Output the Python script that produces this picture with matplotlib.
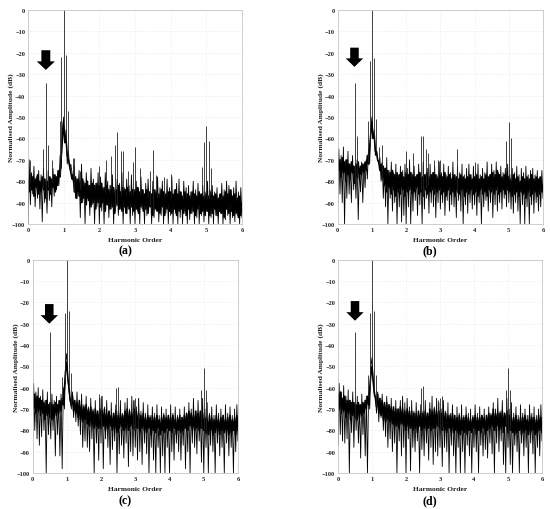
#!/usr/bin/env python3

import matplotlib
matplotlib.use("Agg")
import matplotlib.pyplot as plt
import numpy as np

plt.rcParams['font.family'] = ['Liberation Serif', 'DejaVu Sans']

# outer noise traces, one value per 1/30 of a harmonic order
a_trace = [-100,-70,-91,-76,-86,-73,-92,-78,-88,-75,-93,-77,-99,-74,-90,-79,-95,-75,-89,-78,-92,-74,-87,-77,-84,-75,-82,-68,-74,-56,
           -50,-62,-56,-72,-66,-74,-72,-76,-80,-73,-88,-79,-84,-75,-97,-72,-90,-80,-100,-76,-88,-82,-96,-74,-91,-79,-100,-81,-92,-76,
           -100,-78,-94,-83,-100,-76,-91,-80,-97,-82,-93,-77,-100,-84,-92,-79,-96,-81,-93,-76,-100,-83,-95,-79,-92,-82,-100,-77,-96,-84,
           -100,-80,-94,-83,-100,-78,-93,-84,-100,-81,-96,-79,-92,-85,-100,-80,-97,-84,-94,-78,-99,-83,-96,-80,-100,-85,-95,-79,-100,-83,
           -96,-78,-100,-84,-95,-81,-100,-79,-97,-85,-100,-80,-94,-83,-100,-82,-98,-85,-95,-80,-100,-84,-97,-81,-100,-86,-96,-82,-99,-85,
           -94,-80,-100,-84,-97,-82,-100,-85,-96,-83,-100,-86,-95,-81,-100,-84,-98,-80,-96,-82,-100,-84,-97,-83,-99,-80,-96,-85,-100,-83,-97]
b_trace = [-90,-65,-86,-68,-90,-64,-100,-70,-88,-66,-86,-72,-90,-68,-84,-73,-88,-70,-98,-74,-85,-71,-90,-72,-83,-70,-79,-65,-72,-56,
           -50,-60,-56,-68,-66,-70,-72,-69,-80,-71,-88,-74,-92,-69,-100,-75,-88,-71,-94,-76,-90,-72,-100,-77,-92,-73,-99,-75,-96,-72,
           -100,-74,-92,-70,-100,-76,-94,-73,-89,-77,-96,-72,-91,-76,-100,-71,-93,-77,-88,-74,-95,-72,-90,-76,-92,-73,-97,-77,-90,-71,
           -93,-76,-90,-72,-96,-77,-89,-73,-94,-76,-91,-71,-92,-77,-97,-73,-89,-76,-94,-72,-100,-77,-91,-74,-95,-72,-90,-77,-93,-73,
           -91,-76,-96,-72,-90,-77,-100,-74,-92,-76,-89,-71,-94,-77,-90,-72,-97,-75,-91,-71,-94,-76,-90,-73,-93,-76,-88,-74,-92,-72,
           -90,-77,-93,-74,-95,-76,-90,-73,-94,-77,-100,-74,-91,-76,-100,-73,-92,-77,-100,-75,-91,-74,-95,-77,-90,-75,-94,-78,-92,-75,-88]
c_trace = [-88,-58,-80,-62,-84,-60,-87,-64,-83,-61,-80,-66,-100,-62,-82,-67,-84,-63,-80,-66,-92,-64,-82,-66,-92,-63,-98,-60,-70,-48,
           -44,-56,-62,-66,-70,-62,-74,-66,-76,-62,-78,-67,-82,-63,-88,-68,-85,-64,-88,-69,-90,-65,-84,-70,-100,-66,-86,-71,-94,-65,
           -86,-64,-98,-69,-84,-66,-88,-71,-96,-67,-89,-72,-85,-68,-100,-71,-91,-66,-87,-72,-93,-67,-86,-65,-97,-70,-90,-64,-92,-66,
           -88,-69,-94,-65,-90,-71,-96,-67,-86,-72,-91,-68,-100,-73,-88,-69,-94,-72,-100,-68,-88,-73,-100,-69,-92,-72,-100,-70,-88,-73,
           -100,-68,-90,-72,-94,-69,-86,-73,-90,-70,-94,-74,-87,-69,-98,-72,-90,-67,-100,-70,-86,-65,-88,-71,-91,-66,-85,-72,-95,-65,
           -100,-70,-88,-67,-100,-72,-87,-69,-90,-73,-100,-68,-86,-72,-92,-70,-88,-73,-100,-68,-86,-72,-92,-69,-88,-73,-100,-70,-90,-68,-85]
d_trace = [-87,-58,-82,-62,-85,-59,-86,-64,-84,-61,-100,-66,-81,-62,-88,-67,-80,-64,-86,-68,-93,-63,-82,-67,-92,-64,-100,-62,-70,-50,
           -46,-56,-64,-64,-72,-62,-76,-65,-74,-63,-80,-67,-83,-64,-88,-68,-84,-65,-90,-69,-86,-66,-100,-70,-85,-66,-92,-64,-88,-67,
           -100,-65,-84,-69,-99,-66,-88,-71,-90,-67,-85,-72,-100,-68,-89,-71,-92,-66,-86,-72,-94,-67,-88,-64,-96,-69,-90,-65,-92,-67,
           -88,-70,-97,-66,-88,-71,-90,-67,-100,-72,-87,-68,-92,-73,-100,-69,-88,-72,-100,-68,-90,-73,-100,-69,-87,-72,-92,-70,-100,-73,
           -88,-68,-90,-72,-100,-69,-87,-73,-92,-70,-89,-74,-93,-69,-86,-72,-91,-67,-100,-70,-86,-65,-90,-71,-85,-66,-96,-72,-100,-65,
           -88,-70,-96,-67,-100,-72,-87,-69,-90,-73,-100,-68,-86,-72,-92,-70,-88,-73,-100,-68,-86,-72,-91,-69,-100,-73,-88,-70,-92,-68,-85]

# dense middle of the noise band, same spacing
a_core = [-79,-85,-77,-84,-78,-87,-79,-83,-77,-86,-80,-85,-78,-84,-79,-88,-80,-84,-78,-86,-79,-83,-77,-85,-78,-82,-75,-78,-68,-60,
          -52,-62,-60,-68,-70,-73,-76,-79,-77,-85,-78,-88,-79,-87,-80,-90,-79,-88,-81,-91,-80,-89,-82,-92,-81,-90,-82,-93,-81,-90,
          -82,-92,-81,-90,-83,-94,-82,-91,-84,-93,-82,-92,-83,-95,-84,-91,-82,-93,-85,-94,-83,-92,-84,-95,-83,-93,-85,-92,-84,-94,
          -84,-93,-83,-95,-85,-92,-84,-94,-86,-93,-84,-95,-85,-92,-86,-96,-84,-93,-85,-94,-86,-95,-84,-92,-85,-96,-86,-93,-85,-94,
          -85,-95,-86,-93,-84,-96,-86,-94,-85,-93,-87,-95,-85,-96,-86,-93,-87,-95,-85,-94,-86,-96,-87,-93,-85,-95,-86,-94,-87,-96,
          -86,-94,-87,-96,-85,-95,-87,-93,-86,-96,-88,-94,-86,-95,-87,-97,-85,-93,-86,-95,-84,-94,-87,-96,-86,-95,-88,-97,-87,-96,-90]
b_core = [-68,-75,-70,-78,-69,-76,-71,-80,-70,-77,-72,-79,-71,-76,-73,-81,-72,-78,-71,-79,-73,-77,-72,-76,-71,-75,-68,-72,-64,-58,
          -52,-60,-58,-66,-66,-70,-71,-75,-72,-79,-73,-82,-74,-85,-75,-83,-76,-86,-75,-84,-77,-87,-76,-85,-77,-86,-76,-84,-78,-87,
          -76,-85,-77,-84,-76,-86,-77,-85,-78,-83,-77,-86,-76,-85,-78,-87,-77,-84,-76,-86,-78,-85,-77,-84,-76,-86,-77,-85,-78,-84,
          -77,-86,-78,-85,-76,-87,-78,-84,-77,-86,-79,-85,-77,-87,-78,-85,-79,-86,-77,-84,-78,-87,-79,-85,-78,-86,-77,-84,-79,-86,
          -78,-85,-77,-87,-79,-84,-78,-86,-79,-85,-77,-87,-78,-84,-77,-85,-76,-86,-77,-84,-75,-86,-77,-85,-78,-84,-77,-86,-76,-84,
          -78,-85,-79,-87,-77,-86,-79,-85,-78,-87,-80,-85,-78,-86,-79,-88,-78,-85,-79,-87,-77,-86,-79,-85,-78,-87,-79,-86,-78,-85,-82]
c_core = [-62,-70,-63,-72,-64,-71,-65,-73,-66,-72,-67,-75,-66,-73,-68,-74,-67,-75,-68,-74,-67,-73,-68,-72,-66,-71,-65,-68,-60,-52,
          -48,-56,-60,-66,-68,-64,-71,-66,-72,-67,-74,-66,-75,-68,-76,-69,-75,-68,-77,-70,-78,-69,-77,-71,-79,-70,-78,-71,-79,-70,
          -79,-71,-78,-70,-80,-72,-79,-71,-78,-73,-80,-72,-79,-71,-81,-73,-79,-72,-78,-73,-80,-71,-79,-70,-80,-71,-78,-72,-79,-70,
          -80,-71,-79,-72,-81,-73,-79,-72,-80,-74,-81,-73,-79,-74,-82,-73,-80,-74,-81,-73,-79,-75,-82,-74,-80,-73,-81,-74,-79,-73,
          -80,-74,-81,-73,-79,-75,-82,-74,-80,-73,-81,-74,-80,-73,-79,-72,-80,-71,-78,-72,-79,-73,-80,-71,-79,-72,-80,-71,-79,-72,
          -80,-74,-81,-75,-82,-73,-80,-74,-82,-75,-81,-73,-80,-75,-82,-74,-80,-73,-81,-75,-80,-74,-82,-73,-81,-75,-80,-74,-82,-73,-80]
d_core = [-63,-70,-62,-72,-65,-71,-64,-74,-66,-72,-66,-75,-67,-73,-67,-74,-68,-75,-67,-74,-68,-73,-67,-72,-66,-70,-64,-68,-60,-54,
          -50,-57,-62,-65,-69,-63,-72,-65,-73,-66,-75,-67,-76,-67,-75,-68,-76,-69,-77,-69,-78,-70,-78,-70,-79,-69,-77,-70,-78,-71,
          -80,-70,-78,-71,-79,-71,-80,-72,-79,-72,-81,-71,-78,-72,-80,-72,-79,-71,-80,-72,-79,-70,-80,-71,-79,-70,-79,-71,-78,-71,
          -79,-72,-80,-71,-80,-72,-81,-73,-79,-73,-80,-72,-81,-73,-80,-74,-81,-73,-82,-74,-80,-74,-81,-73,-82,-74,-80,-75,-81,-74,
          -79,-73,-82,-74,-80,-74,-81,-73,-79,-74,-82,-73,-80,-72,-79,-73,-78,-70,-80,-72,-78,-72,-80,-72,-79,-71,-81,-72,-78,-71,
          -81,-73,-80,-74,-81,-74,-82,-73,-81,-75,-80,-74,-82,-74,-81,-73,-80,-75,-82,-73,-81,-74,-80,-74,-82,-75,-81,-73,-80,-74,-81]

# harmonic peaks
a_peak_x = [0.05,0.43,0.5,0.57,0.68,0.89,0.93,1.0,1.07,1.13,1.25,1.3,1.45,2.0,2.2,2.33,2.43,2.5,2.6,2.67,2.8,2.93,3.0,3.13,3.43,3.5,3.6,3.8,4.0,4.87,4.93,5.0,5.07,5.13]
a_peak_y = [-70,-65,-34,-63,-70,-52,-22,0,-21,-47,-69,-69,-75,-73,-70,-68,-63,-57,-66,-66,-75,-71,-64,-74,-75,-65.5,-77,-78,-76.5,-73.5,-61.5,-54,-61,-74]
b_peak_x = [0.5,0.57,0.89,0.94,1.0,1.06,1.13,1.2,1.3,2.0,2.2,2.43,2.5,2.57,2.65,2.8,2.93,3.0,3.5,4.0,4.93,5.0,5.07]
b_peak_y = [-34,-59,-52,-24,0,-22.5,-51,-64,-63,-66,-67,-59,-59,-65,-67,-70,-70,-70,-65,-71,-61,-52.5,-60]
c_peak_x = [0.5,0.87,0.94,1.0,1.06,1.13,1.95,2.0,2.43,2.5,2.93,3.0,3.07,4.93,5.0,5.07]
c_peak_y = [-34,-55,-25,0,-24,-53,-63,-64,-60,-59.5,-66,-65,-65,-61,-51,-61]
d_peak_x = [0.5,0.87,0.93,1.0,1.06,1.13,2.43,2.5,2.93,3.0,3.07,4.93,5.0,5.07]
d_peak_y = [-34,-54,-25,0,-24,-54,-60,-59,-66,-65,-64,-61,-51,-61]

yticks = list(range(0, -101, -10))
xticks = [0, 1, 2, 3, 4, 5, 6]


def drawPanel(rect, trace, core, peak_x, peak_y, arrow, label):
    ax = fig.add_axes([rect[0] / 550, 1 - rect[3] / 510, (rect[2] - rect[0]) / 550, (rect[3] - rect[1]) / 510])

    x = np.linspace(0, 6, len(trace))
    ax.plot(x, trace, color='black', lw=0.6)
    ax.plot(x, core, color='black', lw=1.15)
    ax.vlines(peak_x, np.interp(peak_x, x, core), peak_y, color='#222222', lw=0.6)

    ax.arrow(arrow[0], arrow[1], 0, arrow[2] - arrow[1], width=0.25, head_width=0.51, head_length=4,
             length_includes_head=True, fc='black', ec='none', zorder=5)

    ax.set_xlim(0, 6)
    ax.set_ylim(-100, 0)
    ax.set_xticks(xticks)
    ax.set_yticks(yticks)
    ax.grid(True, color='#dddddd', lw=0.4, ls=':')
    ax.tick_params(length=0, pad=2, labelsize=4.6, colors='#222222')
    for t in ax.get_xticklabels() + ax.get_yticklabels():
        t.set_fontweight('bold')
    for s in ax.spines.values():
        s.set_color('#bbbbbb')
        s.set_linewidth(0.5)
    ax.set_xlabel('Harmonic Order', fontsize=5.4, fontweight='bold', labelpad=3.5, color='#222222')
    ax.set_ylabel('Normalised Amplitude (dB)', fontsize=5.4, fontweight='bold', labelpad=-1.5, color='#222222')
    fig.text(label[0] / 550, 1 - label[1] / 510, label[2], fontsize=8.5, fontweight='bold', ha='center', va='center')


fig = plt.figure(figsize=(5.5, 5.1), dpi=100)
drawPanel((28, 11, 242, 225), a_trace, a_core, a_peak_x, a_peak_y, (0.5, -18.8, -28), (125, 251, '(a)'))
drawPanel((337.7, 11, 543, 225), b_trace, b_core, b_peak_x, b_peak_y, (0.49, -17.6, -26.6), (430, 251, '(b)'))
drawPanel((32.5, 260.7, 238, 474), c_trace, c_core, c_peak_x, c_peak_y, (0.49, -20.8, -30), (125, 501, '(c)'))
drawPanel((338, 260.7, 542, 474), d_trace, d_core, d_peak_x, d_peak_y, (0.5, -19.4, -28.6), (430, 501, '(d)'))
fig.savefig('out.png', dpi=100)
